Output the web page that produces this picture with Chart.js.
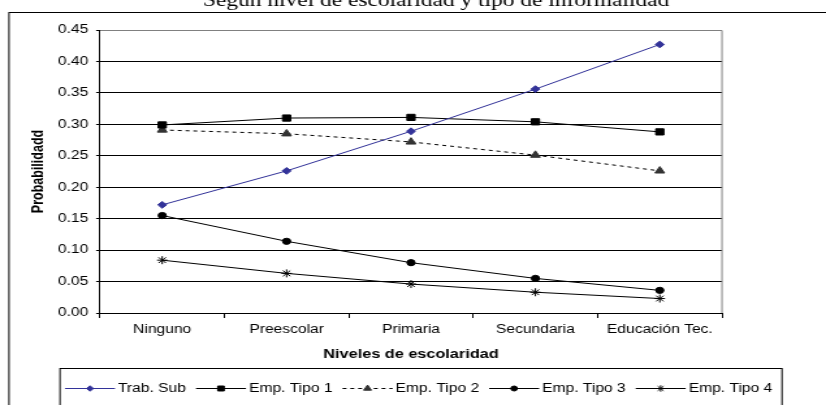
<!DOCTYPE html>
<html>
<head>
<meta charset="utf-8">
<script src="https://cdn.jsdelivr.net/npm/chart.js@4/dist/chart.umd.min.js"></script>
<style>
  html, body { margin: 0; padding: 0; background: #fff; overflow: hidden; }
  /* the figure is laid out narrow and widened horizontally, like the original embedded chart */
  #wrap { width: 635px; height: 405px; transform-origin: 0 0; transform: scale(1.3008, 1); }
  canvas { display: block; }
</style>
</head>
<body>
<div id="wrap"><canvas id="c" width="635" height="405"></canvas></div>
<script>
// ---- data ----
const categories = ['Ninguno', 'Preescolar', 'Primaria', 'Secundaria', 'Educación Tec.'];
const seriesNames = ['Trab. Sub', 'Emp. Tipo 1', 'Emp. Tipo 2', 'Emp. Tipo 3', 'Emp. Tipo 4'];
const trabSub  = [0.172, 0.226, 0.289, 0.356, 0.427];
const empTipo1 = [0.299, 0.310, 0.311, 0.304, 0.288];
const empTipo2 = [0.291, 0.285, 0.272, 0.251, 0.226];
const empTipo3 = [0.155, 0.114, 0.080, 0.055, 0.036];
const empTipo4 = [0.084, 0.063, 0.046, 0.033, 0.023];
const yTicks = [0, 0.05, 0.10, 0.15, 0.20, 0.25, 0.30, 0.35, 0.40, 0.45];
const chartTitle = 'Según nivel de escolaridad y tipo de informalidad';
const xTitle = 'Niveles de escolaridad';
const yTitle = 'Probabilidadd';

// ---- geometry helpers ----
const CANVAS_W = 635, CANVAS_H = 405;
const SX = 826 / CANVAS_W;            // horizontal widening applied by CSS
const px = v => v / SX;               // screen x -> canvas x
const SANS = "'Liberation Sans', Arial, sans-serif";
const SERIF = "'Liberation Serif', 'Times New Roman', serif";

const styles = [
  { color: '#333399', fill: '#333399', pointStyle: 'rectRot',  radius: 3.4, dash: [] },
  { color: '#000000', fill: '#000000', pointStyle: 'rect',     radius: 4.4, dash: [] },
  { color: '#000000', fill: '#333333', pointStyle: 'triangle', radius: 4.3, dash: [3, 3] },
  { color: '#000000', fill: '#000000', pointStyle: 'circle',   radius: 3.1, dash: [] },
  { color: '#000000', fill: '#000000', pointStyle: 'star',     radius: 4.0, dash: [] }
];
const seriesValues = [trabSub, empTipo1, empTipo2, empTipo3, empTipo4];

const datasets = seriesNames.map((name, i) => ({
  label: name,
  data: seriesValues[i],
  borderColor: styles[i].color,
  backgroundColor: styles[i].fill,
  borderWidth: 1,
  borderDash: styles[i].dash,
  pointStyle: styles[i].pointStyle,
  pointRadius: styles[i].radius,
  pointBorderColor: i === 2 ? '#333333' : styles[i].color,
  pointBackgroundColor: styles[i].fill,
  pointBorderWidth: 1,
  tension: 0,
  fill: false
}));

// white page, outer frame, title and right plot border
const framePlugin = {
  id: 'frame',
  beforeDraw(chart) {
    const ctx = chart.ctx;
    ctx.save();
    ctx.fillStyle = '#fff';
    ctx.fillRect(0, 0, CANVAS_W, CANVAS_H);
    ctx.strokeStyle = '#000';
    ctx.lineWidth = 1;
    ctx.strokeRect(px(9), 12.5, CANVAS_W + 20, CANVAS_H + 20);
    ctx.fillStyle = '#000';
    ctx.font = '18px ' + SERIF;
    ctx.textAlign = 'center';
    ctx.textBaseline = 'alphabetic';
    ctx.fillText(chartTitle, px(436), 6);
    ctx.restore();
  },
  beforeDatasetsDraw(chart) {
    const { ctx, chartArea: a } = chart;
    ctx.save();
    ctx.strokeStyle = '#808080';
    ctx.lineWidth = 1;
    ctx.beginPath();
    ctx.moveTo(a.right, a.top + 0.5);
    ctx.lineTo(a.right, a.bottom);
    ctx.stroke();
    ctx.restore();
  }
};

// boxed legend under the axis title, line-and-marker samples
const legendPlugin = {
  id: 'boxLegend',
  afterDraw(chart) {
    const ctx = chart.ctx;
    const boxLeft = px(60), boxRight = px(782), boxTop = 368.5;
    ctx.save();
    ctx.strokeStyle = '#000';
    ctx.lineWidth = 1;
    ctx.strokeRect(boxLeft, boxTop, boxRight - boxLeft, 80);
    ctx.font = '12px ' + SANS;
    ctx.textBaseline = 'middle';
    ctx.textAlign = 'left';
    const y = 388;
    const sampleLen = px(50);
    let x = px(65);
    chart.data.datasets.forEach((ds) => {
      ctx.save();
      ctx.strokeStyle = ds.borderColor;
      ctx.lineWidth = 1;
      ctx.setLineDash(ds.borderDash || []);
      ctx.beginPath();
      ctx.moveTo(x, y + 0.5);
      ctx.lineTo(x + sampleLen, y + 0.5);
      ctx.stroke();
      ctx.setLineDash([]);
      ctx.fillStyle = ds.pointBackgroundColor;
      ctx.strokeStyle = ds.pointBorderColor;
      Chart.helpers.drawPoint(ctx, {
        pointStyle: ds.pointStyle, radius: ds.pointRadius * 0.8, borderWidth: 1, rotation: 0
      }, x + sampleLen / 2, y + 0.5);
      ctx.restore();
      const tx = x + sampleLen + px(3);
      ctx.fillStyle = '#000';
      ctx.fillText(ds.label, tx, y + 1);
      x = tx + ctx.measureText(ds.label).width + px(10);
    });
    ctx.restore();
  }
};

new Chart(document.getElementById('c'), {
  type: 'line',
  data: { labels: categories, datasets },
  plugins: [framePlugin, legendPlugin],
  options: {
    responsive: false,
    animation: false,
    devicePixelRatio: 1,
    layout: { padding: { left: 0, top: 30, right: CANVAS_W - px(722), bottom: 0 } },
    plugins: { legend: { display: false }, title: { display: false }, tooltip: { enabled: false } },
    scales: {
      x: {
        type: 'category',
        offset: true,
        grid: { offset: true, drawOnChartArea: false, tickLength: 5, tickColor: '#000', color: '#000' },
        border: { color: '#000', width: 1 },
        ticks: { color: '#000', font: { family: SANS, size: 12 }, padding: 4, maxRotation: 0, autoSkip: false },
        title: {
          display: true, text: xTitle, color: '#000',
          font: { family: SANS, size: 12.5, weight: 'bold' },
          padding: { top: 0, bottom: 42.5 }
        },
        afterFit(scale) { scale.height = CANVAS_H - 313; }
      },
      y: {
        min: 0,
        max: 0.45,
        afterBuildTicks(scale) { scale.ticks = yTicks.map(v => ({ value: v })); },
        grid: {
          color: (c) => (c.tick && c.tick.value > 0.449 ? '#808080' : '#000'),
          lineWidth: 1, tickLength: 3, tickColor: '#000'
        },
        border: { color: '#000', width: 1 },
        ticks: {
          color: '#000', font: { family: SANS, size: 12 }, padding: 6,
          callback: (v) => Number(v).toFixed(2)
        },
        title: {
          display: true, text: yTitle, color: '#000',
          font: { family: SANS, size: 12.5, weight: 'bold' },
          padding: { top: 22.5, bottom: 0 }
        },
        afterFit(scale) { scale.width = px(100); }
      }
    }
  }
});
</script>
</body>
</html>
